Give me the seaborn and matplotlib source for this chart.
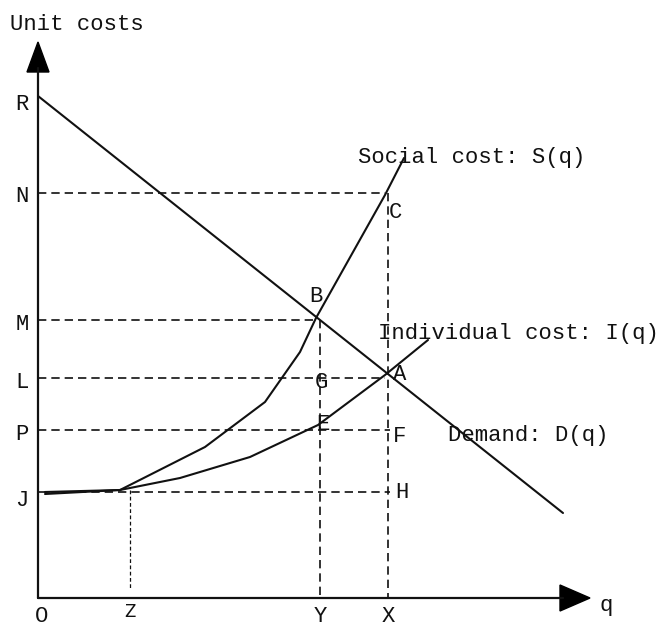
import numpy as np
import pandas as pd
import matplotlib
matplotlib.use("Agg")
import matplotlib.pyplot as plt
import seaborn as sns

# curves (q, unit cost), origin at O
demand_q = [0, 525]
demand_c = [502, 85]

social_q = [7, 82, 167, 227, 262, 278, 347, 366]
social_c = [106, 108, 151, 196, 246, 280, 403, 440]

indiv_q = [7, 82, 142, 212, 280, 347, 390]
indiv_c = [104, 108, 120, 141, 173, 223, 258]

# guide levels
level_names = ["N", "M", "L", "P", "J"]
level_c = [405, 278, 220, 168, 106]
level_end_q = [347, 278, 347, 352, 352]
qty_names = ["Y", "X"]
qty_q = [282, 350]
qty_top_c = [278, 405]
z_q, z_c = 92, 108

ink = "#111111"
mono = "Liberation Mono"

sns.set_style("white")
fig = plt.figure(figsize=(6.59, 6.28), dpi=100)
ax = fig.add_axes([0, 0, 1, 1])
ax.set_xlim(-38, 621)
ax.set_ylim(-30, 598)
ax.axis("off")

# dashed guides
dash = (0, (5, 3))
for c, qe in zip(level_c, level_end_q):
    ax.plot([0, qe], [c, c], color=ink, lw=1.2, ls=dash)
for q, ct in zip(qty_q, qty_top_c):
    ax.plot([q, q], [ct, 0], color=ink, lw=1.2, ls=dash)
ax.plot([z_q, z_q], [z_c, 8], color=ink, lw=0.9, ls=(0, (3, 2)))

# curves
df_d = pd.DataFrame({"q": demand_q, "c": demand_c})
df_s = pd.DataFrame({"q": social_q, "c": social_c})
df_i = pd.DataFrame({"q": indiv_q, "c": indiv_c})
for d in (df_d, df_s, df_i):
    sns.lineplot(data=d, x="q", y="c", sort=False, color=ink, lw=1.5, ax=ax)
ax.set_xlabel("")
ax.set_ylabel("")

# axes with arrow heads
ax.plot([0, 0], [0, 530], color=ink, lw=1.6)
ax.plot([0, 525], [0, 0], color=ink, lw=1.6)
ax.fill([-11, 11, 0], [526, 526, 556], color="black")
ax.fill([522, 522, 552], [-13, 13, 0], color="black")

fs = 16
tk = dict(family=mono, fontsize=fs, color=ink)
ax.text(-28, 574, "Unit costs", ha="left", va="center", **tk)
ax.text(320, 441, "Social cost: S(q)", ha="left", va="center", **tk)
ax.text(340, 265, "Individual cost: I(q)", ha="left", va="center", **tk)
ax.text(410, 162, "Demand: D(q)", ha="left", va="center", **tk)

# axis letters
ax.text(-16, 494, "R", ha="center", va="center", **tk)
for n, c in zip(level_names, level_c):
    ax.text(-16, c - 4 if n != "J" else c - 8, n, ha="center", va="center", **tk)
ax.text(4, -19, "O", ha="center", va="center", **tk)
ax.text(z_q, -14, "Z", ha="center", va="center", fontsize=12, color=ink)
for n, q in zip(qty_names, qty_q):
    ax.text(q, -19, n, ha="center", va="center", **tk)
ax.text(568, -8, "q", ha="center", va="center", **tk)

# point letters
ax.text(278, 301, "B", ha="center", va="center", **tk)
ax.text(357, 386, "C", ha="center", va="center", **tk)
ax.text(362, 223, "A", ha="center", va="center", **tk)
ax.text(283, 215, "G", ha="center", va="center", **tk)
ax.text(285, 173, "E", ha="center", va="center", **tk)
ax.text(362, 161, "F", ha="center", va="center", **tk)
ax.text(364, 105, "H", ha="center", va="center", **tk)

plt.savefig("out.png", dpi=100)
